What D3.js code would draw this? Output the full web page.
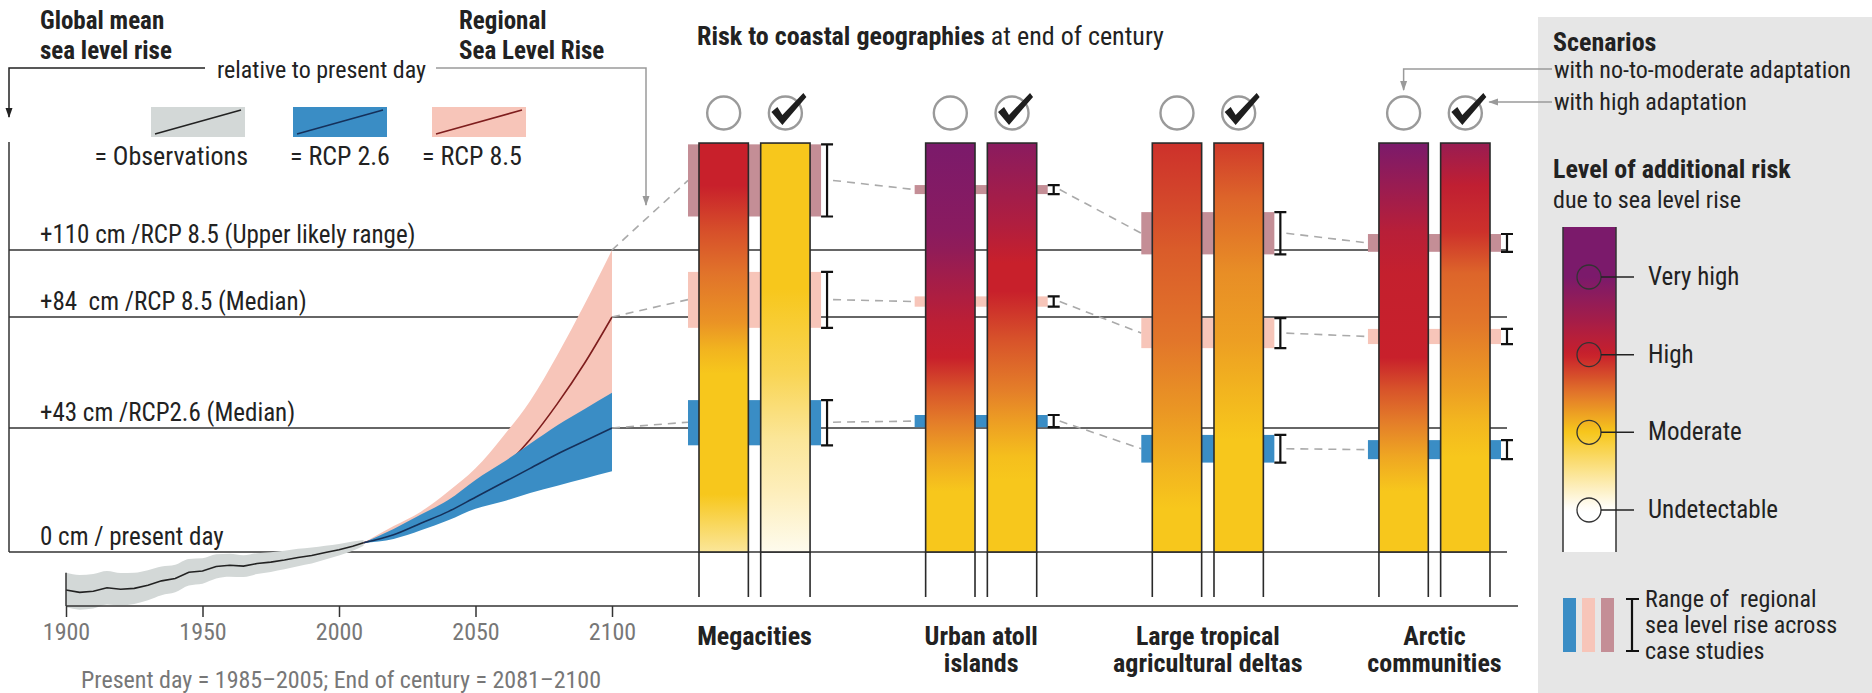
<!DOCTYPE html>
<html>
<head>
<meta charset="utf-8">
<script src="https://cdn.jsdelivr.net/npm/d3@7"></script>
<style>
  body { margin: 0; background: #fff; }
  svg text { font-family: "Liberation Sans Narrow", "Roboto Condensed", "DejaVu Sans Condensed", sans-serif; fill: #222; }
</style>
</head>
<body>
<svg id="chart" width="1872" height="693"></svg>
<script>
// ---------- data ----------
const obsYears  = [1900,1905,1910,1915,1920,1925,1930,1935,1940,1945,1950,1955,1960,1965,1970,1975,1980,1985,1990,1995,2000,2005,2009];
const obsMean   = [-13.2,-14.0,-13.6,-12.4,-12.9,-12.6,-11.5,-10.0,-9.2,-7.0,-6.6,-5.0,-4.6,-4.9,-4.0,-3.5,-2.8,-1.9,-1.2,-0.2,0.8,2.0,3.2];
const obsSpread = [6.0,6.0,6.0,5.8,5.6,5.4,5.2,5.0,4.8,4.6,4.4,4.2,4.0,3.8,3.6,3.4,3.2,3.0,2.8,2.4,2.0,1.6,1.0];

const projYears   = [2009,2020,2030,2040,2050,2060,2070,2080,2090,2100];
const rcp26Median = [3.2,6,10,14,19,24,29,34,38.5,43];
const rcp26Low    = [3.2,4.5,7.5,11,15,17.5,20.5,23,25.5,28];
const rcp26High   = [3.2,8,13,18,25,31,37.5,44,50,56];
const rcp85Median = [3.2,6.5,10.5,15.5,21.5,29,39,52,67,84];
const rcp85Low    = [3.2,5,8,11.5,16,21,28,36,44,52];
const rcp85High   = [3.2,9,14,21,29,40,53,70,89,110];

const levelValues = [110, 84, 43, 0];
const levelLabels = ["+110 cm /RCP 8.5 (Upper likely range)", "+84  cm /RCP 8.5 (Median)", "+43 cm /RCP2.6 (Median)", "0 cm / present day"];
const yearTicks = [1900, 1950, 2000, 2050, 2100];

const geographies = ["Megacities", "Urban atoll islands", "Large tropical agricultural deltas", "Arctic communities"];
const geographyLines = [["Megacities"], ["Urban atoll", "islands"], ["Large tropical", "agricultural deltas"], ["Arctic", "communities"]];
const scenarios = ["no-to-moderate adaptation", "high adaptation"];

// risk level (0 undetectable .. 3 very high) against sea level rise in cm
const riskNoAdaptation = [
  [[151.5,2.0],[135,2.0],[117,1.72],[101,1.52],[82,1.32],[72,1.12],[63,1.0],[20,1.0],[0,0.45]],
  [[151.5,3.0],[117,2.8],[110,2.7],[101,2.5],[82,2.15],[69,2.0],[57,1.7],[45,1.45],[33,1.2],[21,1.0],[0,1.0]],
  [[151.5,1.9],[125,1.75],[110,1.65],[75,1.5],[50,1.3],[27,1.1],[15,1.0],[0,1.0]],
  [[151.5,3.0],[135,2.6],[117,2.2],[101,2.05],[69,2.0],[57,1.7],[45,1.45],[33,1.2],[21,1.0],[0,1.0]]
];
const riskHighAdaptation = [
  [[151.5,1.0],[95,1.0],[63,0.75],[39,0.45],[21,0.3],[0,0.08]],
  [[151.5,2.8],[120,2.3],[105,2.0],[94,2.0],[75,1.7],[57,1.45],[45,1.25],[33,1.05],[25,1.0],[0,1.0]],
  [[151.5,1.85],[130,1.6],[101,1.35],[75,1.25],[57,1.12],[39,1.0],[0,1.0]],
  [[151.5,2.6],[135,2.1],[117,1.9],[101,1.6],[82,1.5],[57,1.25],[45,1.1],[33,1.0],[0,1.0]]
];
const barTopCm = 151.5;

// regional sea level rise ranges across case studies [low, high] in cm
const regionalUpper85  = [[123,151],[131.7,135.2],[108.3,124.7],[109.3,116.2]];
const regionalMedian85 = [[80,101.5],[88,92],[72.5,83.6],[74,79.6]];
const regionalMedian26 = [[37,53.3],[43.3,47.8],[31,40.6],[32.2,38.8]];

const riskLevelNames = ["Undetectable", "Moderate", "High", "Very high"];

// ---------- setup ----------
const svg = d3.select("#chart");
const defs = svg.append("defs");

const x = d3.scaleLinear().domain([1900, 2100]).range([66, 612]);
const y = d3.scaleLinear().domain([0, 43, 84, 110]).range([552, 428, 317, 250]);

const riskColor = d3.scaleLinear()
  .domain([0, 1, 1.5, 2, 2.5, 3])
  .range(["#ffffff", "#f7c71c", "#e2762a", "#c8202b", "#a01d4c", "#7b1a6b"])
  .clamp(true);

const colObsBand = "#d3d8d7", colBlue = "#3a8dc5", colPink = "#f7c5b9", colMauve = "#c48e96";
const colBlueLine = "#15305a", colRedLine = "#7e1d1d";
const FS = 25; // body text size

function marker(id, color) {
  defs.append("marker").attr("id", id)
    .attr("viewBox", "0 0 10 10").attr("refX", 9).attr("refY", 5)
    .attr("markerUnits", "userSpaceOnUse").attr("markerWidth", 10).attr("markerHeight", 10)
    .attr("orient", "auto")
    .append("path").attr("d", "M0,1.5 L10,5 L0,8.5 Z").attr("fill", color);
}
marker("arrowDark", "#222");
marker("arrowGray", "#9a9a9a");

// ---------- titles & bracket ----------
const t1 = svg.append("text").attr("x", 40).attr("y", 29).attr("font-size", 25).attr("font-weight", "bold");
t1.append("tspan").text("Global mean");
t1.append("tspan").attr("x", 40).attr("dy", 30).text("sea level rise");

const t2 = svg.append("text").attr("x", 459).attr("y", 29).attr("font-size", 25).attr("font-weight", "bold");
t2.append("tspan").text("Regional");
t2.append("tspan").attr("x", 459).attr("dy", 30).text("Sea Level Rise");

svg.append("text").attr("x", 217).attr("y", 78).attr("font-size", 24).text("relative to present day");

svg.append("path").attr("d", "M205,68 H9 V117").attr("fill", "none")
  .attr("stroke", "#222").attr("stroke-width", 1.5).attr("marker-end", "url(#arrowDark)");
svg.append("path").attr("d", "M436,68 H646 V205").attr("fill", "none")
  .attr("stroke", "#9a9a9a").attr("stroke-width", 1.5).attr("marker-end", "url(#arrowGray)");

// left axis of the global panel
svg.append("line").attr("x1", 9).attr("x2", 9).attr("y1", 142).attr("y2", y(0))
  .attr("stroke", "#333").attr("stroke-width", 1.5);

// ---------- legend of global panel ----------
const globLegend = [
  { label: "= Observations", fill: colObsBand, line: "#222", x0: 151, anchor: "end", tx: 97 },
  { label: "= RCP 2.6", fill: colBlue, line: colBlueLine, x0: 293, anchor: "middle", tx: 47 },
  { label: "= RCP 8.5", fill: colPink, line: colRedLine, x0: 432, anchor: "middle", tx: 40 }
];
globLegend.forEach(d => {
  const g = svg.append("g").attr("transform", `translate(${d.x0},107)`);
  g.append("rect").attr("width", 94).attr("height", 30).attr("fill", d.fill);
  g.append("line").attr("x1", 4).attr("y1", 27).attr("x2", 90).attr("y2", 3)
    .attr("stroke", d.line).attr("stroke-width", 1.6);
  svg.append("text").attr("x", d.x0 + d.tx).attr("y", 165).attr("text-anchor", d.anchor)
    .attr("font-size", 26).text(d.label);
});

// ---------- reference levels ----------
svg.append("g").selectAll("line").data(levelValues).join("line")
  .attr("x1", 9).attr("x2", 1507)
  .attr("y1", d => y(d)).attr("y2", d => y(d))
  .attr("stroke", "#333").attr("stroke-width", 1.5);

svg.append("g").selectAll("text").data(levelValues).join("text")
  .attr("x", 40).attr("y", d => y(d) - 7)
  .attr("font-size", FS).style("white-space", "pre")
  .text((d, i) => levelLabels[i]);

// ---------- observations & projections ----------
const obs = obsYears.map((yr, i) => ({ yr, m: obsMean[i], s: obsSpread[i] }));
const proj = projYears.map((yr, i) => ({
  yr, m26: rcp26Median[i], l26: rcp26Low[i], h26: rcp26High[i],
  m85: rcp85Median[i], l85: rcp85Low[i], h85: rcp85High[i]
}));

svg.append("path").datum(obs).attr("fill", colObsBand)
  .attr("d", d3.area().x(d => x(d.yr)).y0(d => y(d.m - d.s)).y1(d => y(d.m + d.s)).curve(d3.curveMonotoneX));

const curve = d3.curveMonotoneX;
svg.append("path").datum(proj).attr("fill", colPink)
  .attr("d", d3.area().x(d => x(d.yr)).y0(d => y(d.l85)).y1(d => y(d.h85)).curve(curve));
svg.append("path").datum(proj).attr("fill", "none").attr("stroke", colRedLine).attr("stroke-width", 1.6)
  .attr("d", d3.line().x(d => x(d.yr)).y(d => y(d.m85)).curve(curve));
svg.append("path").datum(proj).attr("fill", colBlue)
  .attr("d", d3.area().x(d => x(d.yr)).y0(d => y(d.l26)).y1(d => y(d.h26)).curve(curve));
svg.append("path").datum(proj).attr("fill", "none").attr("stroke", colBlueLine).attr("stroke-width", 1.6)
  .attr("d", d3.line().x(d => x(d.yr)).y(d => y(d.m26)).curve(curve));
svg.append("path").datum(obs).attr("fill", "none").attr("stroke", "#222").attr("stroke-width", 1.6)
  .attr("d", d3.line().x(d => x(d.yr)).y(d => y(d.m)));

// time axis
const axisY = 606;
svg.append("line").attr("x1", x(1900)).attr("x2", 1518).attr("y1", axisY).attr("y2", axisY)
  .attr("stroke", "#333").attr("stroke-width", 1.5);
svg.append("line").attr("x1", x(1900)).attr("x2", x(1900))
  .attr("y1", y(obsMean[0] + obsSpread[0])).attr("y2", axisY)
  .attr("stroke", "#333").attr("stroke-width", 1.5);
const xAxis = svg.append("g").attr("transform", `translate(0,${axisY})`)
  .call(d3.axisBottom(x).tickValues(yearTicks).tickSize(11).tickPadding(6).tickFormat(d3.format("d")));
xAxis.select(".domain").remove();
xAxis.selectAll(".tick line").attr("stroke", "#333").attr("stroke-width", 1.5);
xAxis.selectAll(".tick text").attr("font-size", 24).style("fill", "#777")
  .attr("font-family", "Liberation Sans Narrow, Roboto Condensed, DejaVu Sans Condensed, sans-serif");

svg.append("text").attr("x", 81).attr("y", 688).attr("font-size", 24).style("fill", "#777")
  .text("Present day = 1985–2005; End of century = 2081–2100");

// ---------- coastal geographies ----------
const title = svg.append("text").attr("x", 697).attr("y", 45).attr("font-size", 26);
title.append("tspan").attr("font-weight", "bold").text("Risk to coastal geographies");
title.append("tspan").text(" at end of century");

const gx = d3.scaleBand().domain(geographies).range([699, 1490]).paddingInner(0.51);
const sx = d3.scaleBand().domain(scenarios).range([0, gx.bandwidth()]).paddingInner(0.2);
const bandPad = 11;
const bandL = g => gx(g) - bandPad;
const bandR = g => gx(g) + gx.bandwidth() + bandPad;
const errX = g => bandR(g) + 6;
const mid = r => (r[0] + r[1]) / 2;

const ranges = [
  { vals: regionalUpper85, fill: colMauve, from: 110 },
  { vals: regionalMedian85, fill: colPink, from: 84 },
  { vals: regionalMedian26, fill: colBlue, from: 43 }
];

// dashed connectors
const conn = svg.append("g").attr("fill", "none").attr("stroke", "#aaa")
  .attr("stroke-width", 1.6).attr("stroke-dasharray", "8,6");
ranges.forEach(r => {
  conn.append("line").attr("x1", x(2100)).attr("y1", y(r.from))
    .attr("x2", bandL(geographies[0])).attr("y2", y(mid(r.vals[0])));
  for (let i = 0; i < geographies.length - 1; i++) {
    conn.append("line").attr("x1", errX(geographies[i]) + 6).attr("y1", y(mid(r.vals[i])))
      .attr("x2", bandL(geographies[i + 1])).attr("y2", y(mid(r.vals[i + 1])));
  }
});

// regional range bands and error bars
ranges.forEach(r => {
  geographies.forEach((g, i) => {
    const [lo, hi] = r.vals[i];
    svg.append("rect").attr("x", bandL(g)).attr("width", bandR(g) - bandL(g))
      .attr("y", y(hi)).attr("height", y(lo) - y(hi)).attr("fill", r.fill);
    const ex = errX(g);
    svg.append("path")
      .attr("d", `M${ex - 6},${y(hi)} H${ex + 6} M${ex},${y(hi)} V${y(lo)} M${ex - 6},${y(lo)} H${ex + 6}`)
      .attr("stroke", "#111").attr("stroke-width", 2.2).attr("fill", "none");
  });
});

// risk bars
const yTop = y(barTopCm), yBot = y(0);
geographies.forEach((g, gi) => {
  [riskNoAdaptation[gi], riskHighAdaptation[gi]].forEach((profile, si) => {
    const id = `risk-${gi}-${si}`;
    const grad = defs.append("linearGradient").attr("id", id)
      .attr("x1", 0).attr("x2", 0).attr("y1", 0).attr("y2", 1);
    profile.forEach(([cm, lvl]) => {
      grad.append("stop").attr("offset", (y(cm) - yTop) / (yBot - yTop)).attr("stop-color", riskColor(lvl));
    });
    const bx = gx(g) + sx(scenarios[si]), bw = sx.bandwidth();
    svg.append("rect").attr("x", bx).attr("y", yTop).attr("width", bw).attr("height", yBot - yTop)
      .attr("fill", `url(#${id})`).attr("stroke", "#2a2a2a").attr("stroke-width", 1.6);
    svg.append("path").attr("d", `M${bx},${yBot} V597 M${bx + bw},${yBot} V597`)
      .attr("stroke", "#2a2a2a").attr("stroke-width", 1.6);

    // scenario marker
    const cx = bx + bw / 2, cy = 113;
    svg.append("circle").attr("cx", cx).attr("cy", cy).attr("r", 16.5)
      .attr("fill", "#fff").attr("stroke", "#9a9a9a").attr("stroke-width", 2.4);
    if (si === 1) {
      svg.append("path")
        .attr("d", `M${cx - 14},${cy - 1} L${cx - 8},${cy - 6} L${cx - 3},${cy + 2} L${cx + 18},${cy - 20} L${cx + 21},${cy - 16} L${cx - 3},${cy + 12} Z`)
        .attr("fill", "#1e1e1e");
    }
  });
  // category label
  const lbl = svg.append("text").attr("x", gx(g) + gx.bandwidth() / 2).attr("y", 645)
    .attr("text-anchor", "middle").attr("font-size", 26).attr("font-weight", "bold");
  geographyLines[gi].forEach((ln, k) => {
    lbl.append("tspan").attr("x", gx(g) + gx.bandwidth() / 2).attr("dy", k ? 27 : 0).text(ln);
  });
});

// ---------- right-hand key ----------
svg.append("rect").attr("x", 1538).attr("y", 17).attr("width", 334).attr("height", 676).attr("fill", "#e6e6e6");

svg.append("text").attr("x", 1553).attr("y", 51).attr("font-size", 26).attr("font-weight", "bold").text("Scenarios");
svg.append("text").attr("x", 1554).attr("y", 78).attr("font-size", 24).text("with no-to-moderate adaptation");
svg.append("text").attr("x", 1554).attr("y", 110).attr("font-size", 24).text("with high adaptation");

const arcticNo = gx(geographies[3]) + sx(scenarios[0]) + sx.bandwidth() / 2;
const arcticHigh = gx(geographies[3]) + sx(scenarios[1]) + sx.bandwidth() / 2;
svg.append("path").attr("d", `M1552,69 H${arcticNo} V90`).attr("fill", "none")
  .attr("stroke", "#9a9a9a").attr("stroke-width", 1.5).attr("marker-end", "url(#arrowGray)");
svg.append("path").attr("d", `M1552,102 H${arcticHigh + 24}`).attr("fill", "none")
  .attr("stroke", "#9a9a9a").attr("stroke-width", 1.5).attr("marker-end", "url(#arrowGray)");

svg.append("text").attr("x", 1553).attr("y", 178).attr("font-size", 26).attr("font-weight", "bold").text("Level of additional risk");
svg.append("text").attr("x", 1553).attr("y", 208).attr("font-size", 24).text("due to sea level rise");

// risk colour bar
const cbTop = 227, cbBot = 552, cbX = 1563, cbW = 53;
const levelY = d3.scaleLinear().domain([0, 3]).range([510, 277]);
const cbGrad = defs.append("linearGradient").attr("id", "riskKey")
  .attr("x1", 0).attr("x2", 0).attr("y1", 0).attr("y2", 1);
d3.range(cbTop, cbBot + 1, 5).forEach(py => {
  cbGrad.append("stop").attr("offset", (py - cbTop) / (cbBot - cbTop))
    .attr("stop-color", riskColor(Math.max(0, Math.min(3, levelY.invert(py)))));
});
svg.append("rect").attr("x", cbX).attr("y", cbTop).attr("width", cbW).attr("height", cbBot - cbTop)
  .attr("fill", "url(#riskKey)");
svg.append("path").attr("d", `M${cbX},${cbTop} V${cbBot} M${cbX + cbW},${cbTop} V${cbBot}`)
  .attr("stroke", "#333").attr("stroke-width", 1.5);

riskLevelNames.forEach((name, lvl) => {
  const cy = levelY(lvl);
  svg.append("circle").attr("cx", 1589).attr("cy", cy).attr("r", 12)
    .attr("fill", "none").attr("stroke", "#333").attr("stroke-width", 1.3);
  svg.append("line").attr("x1", 1601).attr("x2", 1634).attr("y1", cy).attr("y2", cy)
    .attr("stroke", "#222").attr("stroke-width", 1.5);
  svg.append("text").attr("x", 1648).attr("y", cy + 8).attr("font-size", FS).text(name);
});

// range key
[colBlue, colPink, colMauve].forEach((c, i) => {
  svg.append("rect").attr("x", 1563 + i * 19).attr("y", 598).attr("width", 13).attr("height", 54).attr("fill", c);
});
svg.append("path").attr("d", "M1626,599 H1639 M1632,599 V651 M1626,651 H1639")
  .attr("stroke", "#111").attr("stroke-width", 2.2).attr("fill", "none");
const rk = svg.append("text").attr("x", 1645).attr("y", 607).attr("font-size", 24).style("white-space", "pre");
["Range of  regional", "sea level rise across", "case studies"].forEach((ln, k) => {
  rk.append("tspan").attr("x", 1645).attr("dy", k ? 26 : 0).text(ln);
});
</script>
</body>
</html>
